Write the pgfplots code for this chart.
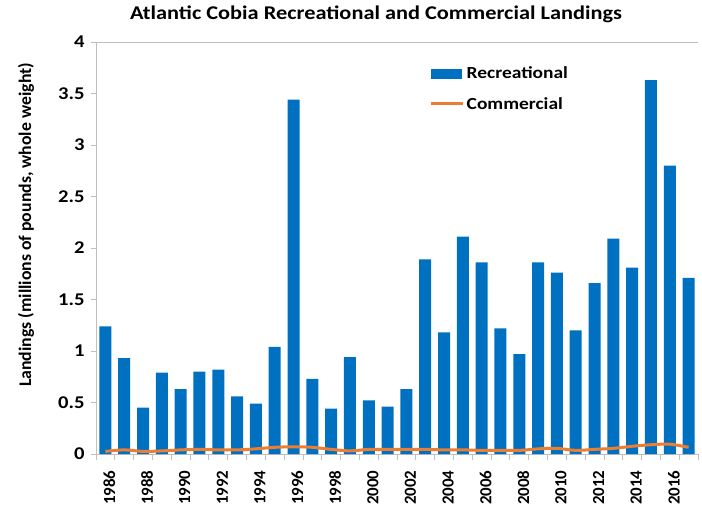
\documentclass[border=0pt]{standalone}
\usepackage{pgfplots}
\pgfplotsset{compat=1.18}
\usepackage{fontspec}
\setmainfont{Carlito}[FakeStretch=1.15]
\newfontfamily\rotfont{Carlito}
\definecolor{recblue}{HTML}{0070C0}
\definecolor{comorange}{HTML}{ED7D31}
\definecolor{axgray}{HTML}{BFBFBF}
\begin{document}
\begin{tikzpicture}
\begin{axis}[
  name=ax,
  scale only axis,
  width=602bp, height=412bp,
  xmin=-0.5, xmax=31.5,
  ymin=0, ymax=4,
  axis lines=left,
  axis line style={-, draw=axgray, line width=0.8bp},
  ytick={0,0.5,...,4},
  xtick={0,2,...,30},
  xticklabels={1986,1988,1990,1992,1994,1996,1998,2000,2002,2004,2006,2008,2010,2012,2014,2016},
  minor xtick={-0.5,0.5,...,31.5},
  major x tick style={draw=none},
  minor tick length=6bp,
  major tick length=5bp,
  tick align=outside,
  tick style={draw=axgray, line width=0.8bp},
  extra y ticks={4},
  extra y tick labels={},
  extra y tick style={grid=major, major grid style={draw=axgray, line width=0.8bp}},
  /pgf/number format/assume math mode=true,
  yticklabel style={font=\fontsize{18}{20}\selectfont\bfseries, xshift=-3bp},
  xticklabel style={font=\rotfont\fontsize{17}{19}\selectfont\bfseries, rotate=90, anchor=east, xshift=-8bp, yshift=-4bp},
  ylabel={\rotfont Landings (millions of pounds, whole weight)},
  ylabel style={font=\fontsize{17.8}{20}\selectfont\bfseries, at={(rel axis cs:0,0.5)}, anchor=center, rotate=0, xshift=23bp, yshift=70bp},
  title={Atlantic Cobia Recreational and Commercial Landings},
  title style={font=\fontsize{19.5}{22}\selectfont\bfseries, at={(rel axis cs:0.5,1)}, anchor=base, xshift=-21bp, yshift=17bp},
  legend style={draw=none, fill=none, at={(rel axis cs:0.554,0.945)}, anchor=north west,
    font=\fontsize{17}{19}\selectfont\bfseries, row sep=13bp, inner sep=0pt,
    nodes={inner sep=2bp}},
  legend cell align=left,
  clip=false,
]
\addplot[ybar, bar width=0.64, fill=recblue, draw=none,
  legend image code/.code={\fill[recblue] (0bp,-5bp) rectangle (31bp,5bp);}]
  coordinates {
(0,1.24) (1,0.93) (2,0.45) (3,0.79) (4,0.63) (5,0.80) (6,0.82) (7,0.56)
(8,0.49) (9,1.04) (10,3.44) (11,0.73) (12,0.44) (13,0.94) (14,0.52) (15,0.46)
(16,0.63) (17,1.89) (18,1.18) (19,2.11) (20,1.86) (21,1.22) (22,0.97) (23,1.86)
(24,1.76) (25,1.20) (26,1.66) (27,2.09) (28,1.81) (29,3.63) (30,2.80) (31,1.71)
};
\addlegendentry{Recreational}
\addplot[comorange, line width=3bp, smooth, no marks,
  legend image code/.code={\draw[comorange, line width=3bp] (0bp,0bp) -- (32bp,0bp);}]
  coordinates {
(0,0.025) (1,0.04) (2,0.025) (3,0.03) (4,0.04) (5,0.045) (6,0.04) (7,0.04)
(8,0.05) (9,0.065) (10,0.07) (11,0.065) (12,0.045) (13,0.03) (14,0.045) (15,0.045)
(16,0.045) (17,0.045) (18,0.04) (19,0.04) (20,0.035) (21,0.035) (22,0.035) (23,0.05)
(24,0.055) (25,0.035) (26,0.045) (27,0.055) (28,0.075) (29,0.09) (30,0.095) (31,0.065)
};
\addlegendentry{Commercial}
\end{axis}
\pgfresetboundingbox
\path[use as bounding box] ([xshift=-96bp,yshift=-54bp]ax.south west) rectangle ([xshift=4bp,yshift=42bp]ax.north east);
\end{tikzpicture}
\end{document}
